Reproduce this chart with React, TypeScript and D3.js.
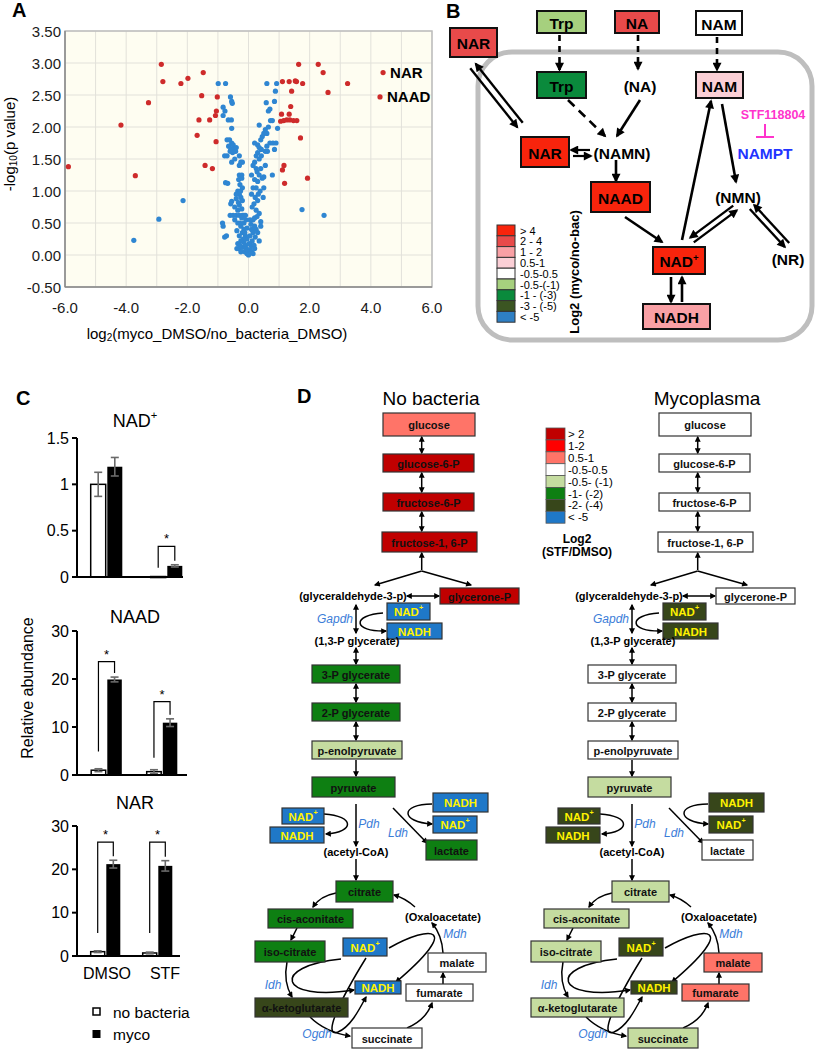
import React from 'react';
import * as d3 from 'd3';

const FONT = "'Liberation Sans', Arial, Helvetica, sans-serif";

// ---------------- Panel A data (log2 FC, -log10 p) ----------------
const redPoints: [number, number][] = [
  [-5.89, 1.38], [-4.17, 2.03], [-3.70, 1.24], [-3.27, 2.38], [-2.85, 2.98], [-2.80, 2.71], [-2.21, 2.68],
  [-1.98, 2.76], [-1.48, 2.85], [-1.53, 2.49], [-1.62, 2.11], [-1.68, 1.87], [-1.27, 2.11], [-1.42, 1.40],
  [-1.18, 1.35], [-1.02, 2.47], [-1.05, 2.25], [-1.08, 2.18], [-1.06, 1.77],
  [1.64, 2.98], [2.28, 2.98], [2.44, 2.85], [3.24, 2.68], [2.60, 2.54], [1.11, 2.71], [1.33, 2.71],
  [1.53, 2.72], [1.57, 2.71], [1.77, 2.68], [1.41, 2.56], [1.38, 2.32], [1.33, 2.20], [1.08, 2.20],
  [1.05, 2.09], [1.15, 2.10], [1.25, 2.11], [1.35, 2.11], [1.47, 2.10], [1.58, 2.10], [1.70, 1.83],
  [1.16, 1.40], [1.11, 1.33], [1.18, 1.12], [1.93, 1.20],
];
const bluePoints: [number, number][] = [
  [-0.99, 2.68], [-0.75, 2.68], [-0.59, 2.47], [-0.53, 2.37], [-0.55, 2.40], [-0.83, 2.31], [-0.77, 2.25],
  [-0.83, 2.18], [-0.66, 2.11], [-0.56, 2.11], [-0.55, 1.98], [-0.70, 1.80], [-0.62, 1.80], [-0.55, 1.75],
  [-0.65, 1.70], [-0.50, 1.72], [-0.58, 1.65], [-0.48, 1.66], [-0.42, 1.62], [-0.52, 1.60], [-0.60, 1.62],
  [-0.40, 1.68], [-0.78, 1.55], [-0.70, 1.55], [-0.55, 1.45], [-0.45, 1.50], [-0.30, 1.55], [-0.25, 1.45],
  [-0.75, 1.13], [-0.68, 1.12], [-0.30, 1.25], [-0.25, 1.22], [-0.32, 1.18], [-0.22, 1.25], [-0.28, 1.10],
  [-0.20, 1.05], [-0.35, 1.00], [-0.30, 0.95], [-0.25, 0.90], [-0.40, 0.88], [-0.55, 0.84], [-0.58, 0.80],
  [-0.45, 0.75], [-0.35, 0.70], [-0.30, 0.78], [-0.22, 0.72], [-0.60, 0.62], [-0.50, 0.62], [-0.40, 0.62],
  [-0.30, 0.62], [-0.20, 0.62], [-0.15, 0.62], [-0.10, 0.62], [-0.45, 0.55], [-0.35, 0.50], [-0.85, 0.50],
  [-0.83, 0.45], [-0.78, 0.28], [-0.72, 0.30], [-0.25, 0.45], [-0.15, 0.40], [-0.20, 0.35], [-0.10, 0.30],
  [-0.30, 0.30], [-0.35, 0.18], [-0.38, 0.10], [-0.30, 0.10], [-0.25, 0.05], [-0.20, 0.12], [-0.15, 0.20],
  [-0.10, 0.15], [-0.05, 0.25], [-0.12, 0.05], [-0.05, 0.02], [-0.08, 0.10], [-0.02, 0.08], [-0.18, 0.25],
  [-0.25, 0.22], [-0.28, 0.15], [0.00, 0.00], [-0.40, 0.95], [-0.20, 0.85], [-0.28, 0.50], [-0.15, 0.50],
  [-0.12, 0.35], [-0.05, 0.42], [-0.08, 0.55], [-0.30, 1.40], [-0.20, 1.45], [-0.22, 1.20], [-0.26, 1.00],
  [-0.33, 0.82], [-0.38, 0.38], [-0.22, 0.58],
  [0.60, 2.68], [0.92, 2.68], [0.88, 2.56], [0.58, 2.38], [0.65, 2.25], [0.70, 2.28], [0.85, 2.40],
  [0.78, 2.10], [0.72, 2.10], [0.95, 1.98], [0.35, 2.03], [0.55, 1.96], [0.50, 1.90], [0.45, 1.85],
  [0.40, 1.80], [0.30, 1.72], [0.20, 1.75], [0.35, 1.68], [0.42, 1.65], [0.55, 1.62], [0.62, 1.62],
  [0.70, 1.75], [0.80, 1.75], [0.90, 1.75], [0.85, 1.65], [0.30, 1.60], [0.25, 1.55], [0.35, 1.50],
  [0.20, 1.45], [0.15, 1.40], [0.55, 1.40], [0.10, 1.25], [0.28, 1.30], [0.35, 1.25], [0.45, 1.20],
  [0.50, 1.22], [0.78, 1.25], [0.20, 1.18], [0.30, 1.15], [0.25, 1.05], [0.15, 1.05], [0.10, 0.95],
  [0.22, 0.90], [0.30, 0.85], [0.18, 0.80], [0.12, 0.75], [0.25, 0.70], [0.35, 0.65], [0.28, 0.60],
  [0.20, 0.58], [0.15, 0.55], [0.40, 0.52], [0.48, 0.90], [0.20, 0.45], [0.10, 0.40], [0.15, 0.35],
  [0.05, 0.30], [0.25, 0.40], [0.35, 0.22], [0.22, 0.28], [0.12, 0.22], [0.08, 0.15], [0.18, 0.15],
  [0.05, 0.08], [0.10, 0.05], [0.15, 0.02], [0.02, 0.18], [0.20, 0.10], [0.30, 0.35], [0.40, 0.45],
  [0.38, 1.00], [0.42, 1.55], [0.60, 1.90], [0.65, 2.00], [0.50, 1.05], [0.25, 1.35], [0.40, 1.35],
  [0.32, 0.95], [0.05, 0.55], [0.08, 0.48], [0.60, 1.70],
  [-3.75, 0.23], [-2.93, 0.56], [-2.14, 0.85], [1.75, 0.71], [2.47, 0.62],
];
const labeledNames = ['NAR', 'NAAD'];
const labeledX = [4.40, 4.30];
const labeledY = [2.85, 2.47];
const xTicksA = [-6, -4, -2, 0, 2, 4, 6];
const yTicksA = [-0.5, 0, 0.5, 1, 1.5, 2, 2.5, 3, 3.5];

// ---------------- Panel C data ----------------
const groups = ['DMSO', 'STF'];
const nadNoBac = [1.0, 0.005];
const nadMyco = [1.19, 0.12];
const nadNoBacErr = [0.13, 0.0];
const nadMycoErr = [0.1, 0.012];
const naadNoBac = [1.0, 0.7];
const naadMyco = [19.9, 10.9];
const naadNoBacErr = [0.3, 0.4];
const naadMycoErr = [0.5, 0.8];
const narNoBac = [1.0, 0.7];
const narMyco = [21.2, 20.8];
const narNoBacErr = [0.2, 0.2];
const narMycoErr = [0.9, 1.2];
// significance brackets: [left start, top] per group (null = none)
const nadSig: ([number, number] | null)[] = [null, [0.1, 0.33]];
const naadSig: ([number, number] | null)[] = [[4.9, 23.6], [3.6, 15.3]];
const narSig: ([number, number] | null)[] = [[5.3, 26.3], [5.3, 26.3]];

// ---------------- Panel B data ----------------
const legendBLabels = ['> 4', '2 - 4', '1 - 2', '0.5-1', '-0.5-0.5', '-0.5-(-1)', '-1 - (-3)', '-3 - (-5)', '< -5'];
const legendBColors = ['#F8240C', '#E84A4A', '#F9A0A5', '#FBCFD6', '#FFFFFF', '#A6D07E', '#0A8A3C', '#3B5522', '#2E7FC4'];
const bNodeNames = ['NAR', 'Trp', 'NA', 'NAM', 'Trp', 'NAM', 'NAR', 'NAAD', 'NAD+', 'NADH'];
const bNodeLevel = [1, 5, 1, 4, 6, 3, 0, 0, 0, 2];

// ---------------- Panel D data ----------------
const legendDLabels = ['> 2', '1-2', '0.5-1', '-0.5-0.5', '-0.5- (-1)', '-1- (-2)', '-2- (-4)', '< -5'];
const legendDColors = ['#C00000', '#FF0000', '#FF7468', '#FFFFFF', '#C5DCA0', '#0E7F12', '#37461A', '#1F78C8'];
const dMetabolites = ['glucose', 'glucose-6-P', 'fructose-6-P', 'fructose-1, 6-P', 'glycerone-P', '3-P glycerate',
  '2-P glycerate', 'p-enolpyruvate', 'pyruvate', 'lactate', 'citrate', 'cis-aconitate', 'iso-citrate',
  'α-ketoglutarate', 'succinate', 'fumarate', 'malate'];
const dLevelNoBac = [2, 0, 0, 0, 0, 5, 5, 4, 5, 5, 5, 5, 5, 6, 3, 3, 3];
const dLevelMyco = [3, 3, 3, 3, 3, 3, 3, 3, 4, 3, 4, 4, 4, 4, 4, 2, 2];
const dCofactorLevel = [7, 6]; // NAD+/NADH: no bacteria, mycoplasma
const dTitles = ['No bacteria', 'Mycoplasma'];

// ---------------- layout (positions) ----------------
const dBoxes: [number, number, number, number][] = [
  [383, 475, 413, 436], [383, 474, 454, 472], [383, 474, 493, 511], [382, 477, 532, 552], [440, 519, 588, 604],
  [312, 400, 665, 683], [312, 400, 703, 721], [312, 402, 741, 759], [312, 395, 777, 797], [426, 477, 840, 860],
  [336, 393, 881, 902], [268, 353, 909, 928], [255, 325, 941, 962], [255, 348, 998, 1017], [352, 422, 1028, 1048],
  [406, 473, 984, 1001], [428, 486, 953, 972],
];
const dCofBoxes: [string, number, number, number, number][] = [
  ['NAD+', 387, 430, 603, 620], ['NADH', 387, 442, 623, 639], ['NAD+', 282, 324, 808, 824], ['NADH', 270, 324, 827, 843],
  ['NADH', 433, 488, 793, 812], ['NAD+', 433, 477, 816, 833], ['NAD+', 343, 387, 938, 956], ['NADH', 355, 401, 981, 994],
];
const bBoxes: [number, number, number, number][] = [
  [450, 497, 28, 57], [537, 586, 11, 33], [615, 659, 11, 33], [696, 742, 11, 35], [537, 586, 72, 98],
  [696, 743, 72, 98], [521, 569, 137, 167], [591, 650, 182, 212], [653, 705, 247, 274], [643, 710, 304, 329],
];

function Label({ text, x, y, size, fill, weight }: { text: string; x: number; y: number; size: number; fill: string; weight?: string }) {
  const plus = text.endsWith('+');
  return (
    <text x={x} y={y} fontSize={size} fill={fill} fontWeight={weight || 'bold'} textAnchor="middle" dominantBaseline="central">
      {plus ? (
        <>
          {text.slice(0, -1)}
          <tspan fontSize={size * 0.62} dy={-size * 0.32}>+</tspan>
        </>
      ) : text}
    </text>
  );
}

function dblArrow(x1: number, y1: number, x2: number, y2: number, off: number, w: number, key: string) {
  const dx = x2 - x1, dy = y2 - y1;
  const L = Math.hypot(dx, dy);
  const px = -dy / L * off, py = dx / L * off;
  return (
    <g key={key} stroke="#000" strokeWidth={w}>
      <line x1={x1 + px} y1={y1 + py} x2={x2 + px} y2={y2 + py} markerEnd="url(#arB)" />
      <line x1={x1 - px} y1={y1 - py} x2={x2 - px} y2={y2 - py} markerStart="url(#arB)" />
    </g>
  );
}

function BarChart(props: {
  title: string; titleY: number; domain: [number, number]; range: [number, number]; ticks: number[];
  noBac: number[]; myco: number[]; errNo: number[]; errMy: number[]; sig: ([number, number] | null)[];
  centers: [number, number]; barW: number; xEnd: number;
}) {
  const { title, titleY, domain, range, ticks, noBac, myco, errNo, errMy, sig, centers, barW, xEnd } = props;
  const y = d3.scaleLinear().domain(domain).range(range);
  const xg = d3.scalePoint<string>().domain(groups).range(centers);
  const axisX = 77;
  return (
    <g>
      <Label text={title} x={135} y={titleY} size={18} fill="#000" weight="normal" />
      {groups.map((g, i) => {
        const c = xg(g)!;
        const wx = c - barW - 0.8, bx = c + 0.8;
        const errBar = (cx: number, v: number, e: number, k: string) => e > 0 ? (
          <g key={k} stroke="#6a6a6a" strokeWidth={1.6}>
            <line x1={cx} x2={cx} y1={y(v + e)} y2={y(v - e)} />
            <line x1={cx - 4} x2={cx + 4} y1={y(v + e)} y2={y(v + e)} />
            <line x1={cx - 4} x2={cx + 4} y1={y(v - e)} y2={y(v - e)} />
          </g>
        ) : null;
        const s = sig[i];
        const lc = wx + barW / 2, rc = bx + barW / 2;
        return (
          <g key={g}>
            <rect x={wx} y={y(noBac[i])} width={barW} height={Math.max(1, y(0) - y(noBac[i]))} fill="#fff" stroke="#000" strokeWidth={1.5} />
            <rect x={bx} y={y(myco[i])} width={barW} height={y(0) - y(myco[i])} fill="#000" />
            {errBar(lc, noBac[i], errNo[i], 'en')}
            {errBar(rc, myco[i], errMy[i], 'em')}
            {s && (
              <g>
                <path d={`M${lc},${y(s[0])} V${y(s[1])} H${rc} V${y(myco[i] + errMy[i]) - 4}`} fill="none" stroke="#000" strokeWidth={1.2} />
                <text x={(lc + rc) / 2} y={y(s[1]) - 3} fontSize={13} textAnchor="middle">*</text>
              </g>
            )}
          </g>
        );
      })}
      <line x1={axisX} x2={axisX} y1={y(domain[1])} y2={y(0)} stroke="#000" strokeWidth={2} />
      <line x1={axisX - 2} x2={xEnd} y1={y(0)} y2={y(0)} stroke="#000" strokeWidth={2.2} />
      {ticks.map(t => (
        <g key={t}>
          <line x1={axisX - 5} x2={axisX} y1={y(t)} y2={y(t)} stroke="#000" strokeWidth={2} />
          <text x={axisX - 8} y={y(t)} fontSize={16} textAnchor="end" dominantBaseline="central">{t}</text>
        </g>
      ))}
    </g>
  );
}

function DColumn({ dx, levels, cof, title }: { dx: number; levels: number[]; cof: number; title: string }) {
  const arrowsBoth: [number, number, number, number][] = [
    [421.7, 437, 421.7, 453], [421.7, 473, 421.7, 492], [421.7, 512, 421.7, 531],
    [356, 684, 356, 702], [356, 722, 356, 740], [356, 605, 356, 633], [356, 648, 356, 664], [407, 596, 439, 596],
  ];
  const arrowsOne: [number, number, number, number][] = [
    [421.7, 570, 421.7, 553], [421.7, 571, 375, 585], [421.7, 571, 471, 585], [356, 760, 356, 776],
    [356, 804, 356, 846], [356, 859, 356, 880], [393, 808, 427, 843], [443, 984, 443, 973],
  ];
  const curves = [
    'M383,613 C352,615 352,632 386,631',
    'M324,814 C355,816 355,832 326,834',
    'M432,804 C400,804 400,822 432,824',
    'M336,893 Q320,896 313,907',
    'M297,928 L291,940',
    'M287,962 Q283,982 292,997',
    'M310,1017 Q325,1032 350,1036',
    'M407,1028 Q426,1020 432,1003',
    'M443,953 Q442,935 432,923',
    'M415,907 Q405,898 394,895',
    'M341,959 C270,966 278,1002 354,990',
    'M366,958 C340,1000 322,1038 338,1032 C350,1027 358,1012 366,997',
    'M389,948 C432,924 462,926 396,982',
  ];
  return (
    <g transform={`translate(${dx},0)`}>
      <text x={431} y={398} fontSize={19} textAnchor="middle" dominantBaseline="central">{title}</text>
      <g stroke="#000" strokeWidth={1.5} fill="none">
        {arrowsBoth.map((a, i) => <line key={'b' + i} x1={a[0]} y1={a[1]} x2={a[2]} y2={a[3]} markerStart="url(#arD)" markerEnd="url(#arD)" />)}
        {arrowsOne.map((a, i) => <line key={'o' + i} x1={a[0]} y1={a[1]} x2={a[2]} y2={a[3]} markerEnd="url(#arD)" />)}
        {curves.map((c, i) => <path key={'c' + i} d={c} markerEnd="url(#arD)" />)}
      </g>
      {dMetabolites.map((m, i) => {
        const b = dBoxes[i];
        return (
          <g key={m}>
            <rect x={b[0]} y={b[2]} width={b[1] - b[0]} height={b[3] - b[2]} fill={legendDColors[levels[i]]} stroke="#333" strokeWidth={1.2} />
            <Label text={m} x={(b[0] + b[1]) / 2} y={(b[2] + b[3]) / 2 + 0.5} size={11} fill="#111" />
          </g>
        );
      })}
      {dCofBoxes.map((c, i) => (
        <g key={'cof' + i}>
          <rect x={c[1]} y={c[3]} width={c[2] - c[1]} height={c[4] - c[3]} fill={legendDColors[cof]} stroke="#333" strokeWidth={1.2} />
          <Label text={c[0]} x={(c[1] + c[2]) / 2} y={(c[3] + c[4]) / 2 + 0.5} size={11.5} fill="#FFF200" />
        </g>
      ))}
      <g fontSize={11} fontWeight="bold" textAnchor="middle" dominantBaseline="central">
        <text x={353} y={596}>(glyceraldehyde-3-p)</text>
        <text x={357} y={641}>(1,3-P glycerate)</text>
        <text x={356} y={852}>(acetyl-CoA)</text>
        <text x={443} y={917}>(Oxaloacetate)</text>
      </g>
      <g fontSize={12} fontStyle="italic" fill="#3B7DD8" textAnchor="middle" dominantBaseline="central">
        <text x={335} y={619}>Gapdh</text>
        <text x={369} y={824}>Pdh</text>
        <text x={398} y={833}>Ldh</text>
        <text x={273} y={985}>Idh</text>
        <text x={455} y={934}>Mdh</text>
        <text x={317} y={1034}>Ogdh</text>
      </g>
    </g>
  );
}

export default function App() {
  const xA = d3.scaleLinear().domain([-6, 6]).range([65, 432]);
  const yA = d3.scaleLinear().domain([-0.5, 3.5]).range([287, 31]);
  const gridX = d3.range(-6, 6.01, 1);

  return (
    <svg width={818} height={1050} style={{ position: 'absolute', left: 0, top: 0, background: '#fff' }} fontFamily={FONT}>
      <defs>
        <marker id="arB" viewBox="0 0 10 10" refX="8" refY="5" markerWidth="11" markerHeight="9" markerUnits="userSpaceOnUse" orient="auto-start-reverse">
          <path d="M0,0 L10,5 L0,10 z" fill="#000" />
        </marker>
        <marker id="arD" viewBox="0 0 10 10" refX="8" refY="5" markerWidth="7" markerHeight="6" markerUnits="userSpaceOnUse" orient="auto-start-reverse">
          <path d="M0,0 L10,5 L0,10 z" fill="#000" />
        </marker>
      </defs>

      {/* ---------- Panel A ---------- */}
      <text x={12} y={17} fontSize={20} fontWeight="bold">A</text>
      <rect x={xA(-6)} y={yA(3.5)} width={xA(6) - xA(-6)} height={yA(-0.5) - yA(3.5)} fill="#FEFDF1" />
      {gridX.map(g => <line key={'gx' + g} x1={xA(g)} x2={xA(g)} y1={yA(3.5)} y2={yA(-0.5)} stroke="#E2E1DA" strokeWidth={1} />)}
      {yTicksA.map(g => <line key={'gy' + g} x1={xA(-6)} x2={xA(6)} y1={yA(g)} y2={yA(g)} stroke="#E2E1DA" strokeWidth={1} />)}
      <rect x={xA(-6)} y={yA(3.5)} width={xA(6) - xA(-6)} height={yA(-0.5) - yA(3.5)} fill="none" stroke="#BDBDBD" strokeWidth={1.5} />
      <line x1={xA(-6)} x2={xA(-6)} y1={yA(3.5)} y2={yA(-0.5)} stroke="#8A8A8A" strokeWidth={1.5} />
      <line x1={xA(-6)} x2={xA(6)} y1={yA(-0.5)} y2={yA(-0.5)} stroke="#8A8A8A" strokeWidth={1.5} />
      {yTicksA.map(t => (
        <text key={'yt' + t} x={61} y={yA(t)} fontSize={15} textAnchor="end" dominantBaseline="central" fill="#1a1a1a">{t.toFixed(2)}</text>
      ))}
      {xTicksA.map(t => (
        <text key={'xt' + t} x={xA(t)} y={307} fontSize={15} textAnchor="middle" dominantBaseline="central" fill="#1a1a1a">{t.toFixed(1)}</text>
      ))}
      {bluePoints.map((p, i) => <circle key={'bp' + i} cx={xA(p[0])} cy={yA(p[1])} r={2.6} fill="#2F86D2" />)}
      {redPoints.map((p, i) => <circle key={'rp' + i} cx={xA(p[0])} cy={yA(p[1])} r={2.6} fill="#CE2B2B" />)}
      {labeledNames.map((n, i) => (
        <g key={n}>
          <circle cx={xA(labeledX[i])} cy={yA(labeledY[i])} r={2.6} fill="#CE2B2B" />
          <text x={xA(labeledX[i]) + 7} y={yA(labeledY[i])} fontSize={15} fontWeight="bold" dominantBaseline="central">{n}</text>
        </g>
      ))}
      <text transform="translate(9,144) rotate(-90)" fontSize={15} textAnchor="middle" dominantBaseline="central">
        -log<tspan fontSize={10} dy={4}>10</tspan><tspan dy={-4}>(p value)</tspan>
      </text>
      <text x={217} y={333} fontSize={15} textAnchor="middle" dominantBaseline="central">
        log<tspan fontSize={10} dy={4}>2</tspan><tspan dy={-4}>(myco_DMSO/no_bacteria_DMSO)</tspan>
      </text>

      {/* ---------- Panel B ---------- */}
      <text x={446} y={18} fontSize={20} fontWeight="bold">B</text>
      <rect x={478} y={52} width={334} height={288} rx={34} fill="none" stroke="#BEBEBE" strokeWidth={5} />
      <g stroke="#000" strokeWidth={2.6} fill="none">
        <line x1={559.5} y1={35} x2={559.5} y2={70} strokeDasharray="6,5" markerEnd="url(#arB)" />
        <line x1={638} y1={35} x2={638} y2={69} strokeDasharray="6,5" markerEnd="url(#arB)" />
        <line x1={717} y1={37} x2={717} y2={70} strokeDasharray="6,5" markerEnd="url(#arB)" />
        <line x1={568} y1={100} x2={605} y2={136} strokeDasharray="9,6" markerEnd="url(#arB)" />
        <line x1={640} y1={100} x2={617} y2={136} markerEnd="url(#arB)" />
        <line x1={616} y1={160} x2={616} y2={181} markerEnd="url(#arB)" />
        <line x1={625} y1={217} x2={662} y2={242} markerEnd="url(#arB)" />
        <line x1={682} y1={240} x2={711} y2={101} markerEnd="url(#arB)" />
        <line x1={722} y1={104} x2={736} y2={182} markerEnd="url(#arB)" />
        <line x1={671} y1={277} x2={671} y2={302} markerEnd="url(#arB)" />
        <line x1={682} y1={302} x2={682} y2={277} markerEnd="url(#arB)" />
        <line x1={590} y1={150} x2={571} y2={150} markerEnd="url(#arB)" strokeWidth={2.2} />
        <line x1={573} y1={156} x2={591} y2={156} markerEnd="url(#arB)" strokeWidth={2.2} />
      </g>
      {dblArrow(473, 66, 520, 125, 3.5, 2.4, 'd1')}
      {dblArrow(735, 208, 692, 240, 3, 2.4, 'd2')}
      {dblArrow(752, 207, 787, 245, 3, 2.4, 'd3')}
      {bNodeNames.map((n, i) => {
        const b = bBoxes[i];
        return (
          <g key={'bn' + i}>
            <rect x={b[0]} y={b[2]} width={b[1] - b[0]} height={b[3] - b[2]} fill={legendBColors[bNodeLevel[i]]} stroke="#111" strokeWidth={2} />
            <Label text={n} x={(b[0] + b[1]) / 2} y={(b[2] + b[3]) / 2 + 1} size={15.5} fill="#000" />
          </g>
        );
      })}
      <g fontSize={15.5} fontWeight="bold" textAnchor="middle" dominantBaseline="central">
        <text x={640} y={86}>(NA)</text>
        <text x={622} y={153}>(NAMN)</text>
        <text x={738} y={197}>(NMN)</text>
        <text x={788} y={259}>(NR)</text>
      </g>
      <text x={773} y={115} fontSize={12.5} fontWeight="bold" fill="#FF33CC" textAnchor="middle" dominantBaseline="central">STF118804</text>
      <g stroke="#FF33CC" strokeWidth={2}>
        <line x1={765} x2={765} y1={124} y2={137} />
        <line x1={756} x2={774} y1={137} y2={137} />
      </g>
      <text x={765} y={153} fontSize={15.5} fontWeight="bold" fill="#2233FF" textAnchor="middle" dominantBaseline="central">NAMPT</text>
      {legendBLabels.map((l, i) => (
        <g key={'lb' + i}>
          <rect x={497} y={225 + i * 10.8} width={18} height={10.8} fill={legendBColors[i]} stroke="#333" strokeWidth={1} />
          <text x={520} y={225 + i * 10.8 + 5.6} fontSize={11} dominantBaseline="central">{l}</text>
        </g>
      ))}
      <text transform="translate(574,272) rotate(-90)" fontSize={13} fontWeight="bold" textAnchor="middle" dominantBaseline="central">Log2 (myco/no-bac)</text>

      {/* ---------- Panel C ---------- */}
      <text x={16} y={405} fontSize={20} fontWeight="bold">C</text>
      <BarChart title="NAD+" titleY={421} domain={[0, 1.5]} range={[577, 438]} ticks={[0, 0.5, 1, 1.5]}
        noBac={nadNoBac} myco={nadMyco} errNo={nadNoBacErr} errMy={nadMycoErr} sig={nadSig}
        centers={[106.5, 166.5]} barW={15} xEnd={183} />
      <BarChart title="NAAD" titleY={617} domain={[0, 30]} range={[775, 631]} ticks={[0, 10, 20, 30]}
        noBac={naadNoBac} myco={naadMyco} errNo={naadNoBacErr} errMy={naadMycoErr} sig={naadSig}
        centers={[106.5, 162]} barW={14.5} xEnd={187} />
      <BarChart title="NAR" titleY={803} domain={[0, 30]} range={[956, 826]} ticks={[0, 10, 20, 30]}
        noBac={narNoBac} myco={narMyco} errNo={narNoBacErr} errMy={narMycoErr} sig={narSig}
        centers={[105.5, 157.5]} barW={14} xEnd={180} />
      {groups.map((g, i) => (
        <text key={'gl' + g} x={[107, 165][i]} y={973} fontSize={16} textAnchor="middle" dominantBaseline="central">{g}</text>
      ))}
      <text transform="translate(27,688) rotate(-90)" fontSize={16} textAnchor="middle" dominantBaseline="central">Relative abundance</text>
      <rect x={93} y={1008} width={7} height={7} fill="#fff" stroke="#000" strokeWidth={1.5} />
      <text x={113} y={1012} fontSize={15.5} dominantBaseline="central">no bacteria</text>
      <rect x={92.5} y={1030} width={8} height={8} fill="#000" />
      <text x={113} y={1034} fontSize={15.5} dominantBaseline="central">myco</text>

      {/* ---------- Panel D ---------- */}
      <text x={297} y={403} fontSize={20} fontWeight="bold">D</text>
      <DColumn dx={0} levels={dLevelNoBac} cof={dCofactorLevel[0]} title={dTitles[0]} />
      <DColumn dx={276} levels={dLevelMyco} cof={dCofactorLevel[1]} title={dTitles[1]} />
      {legendDLabels.map((l, i) => (
        <g key={'ld' + i}>
          <rect x={546} y={428 + i * 11.9} width={19} height={11.9} fill={legendDColors[i]} stroke="#555" strokeWidth={0.8} />
          <text x={568} y={428 + i * 11.9 + 6} fontSize={11.5} dominantBaseline="central">{l}</text>
        </g>
      ))}
      <text x={577} y={539} fontSize={12} fontWeight="bold" textAnchor="middle" dominantBaseline="central">Log2</text>
      <text x={577} y={552} fontSize={12} fontWeight="bold" textAnchor="middle" dominantBaseline="central">(STF/DMSO)</text>
    </svg>
  );
}
